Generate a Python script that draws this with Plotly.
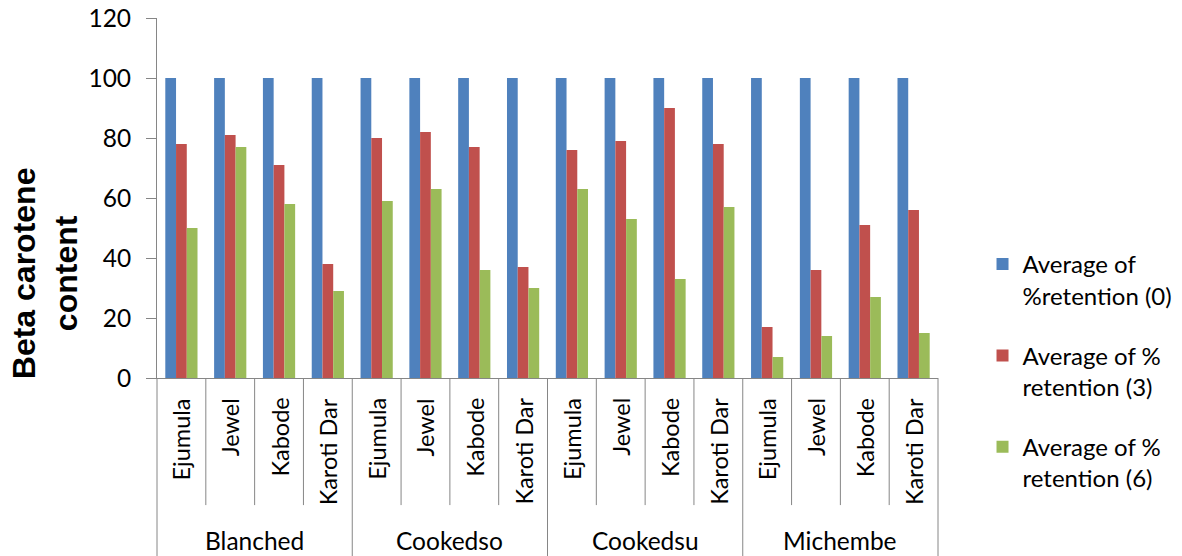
import plotly.graph_objects as go

groups = ["Blanched", "Cookedso", "Cookedsu", "Michembe"]
varieties = ["Ejumula", "Jewel", "Kabode", "Karoti Dar"]
series_names = ["Average of<br>%retention (0)", "Average of %<br>retention (3)", "Average of %<br>retention (6)"]
colors = ["#4F81BD", "#C0504D", "#9BBB59"]

retention_0 = [100, 100, 100, 100, 100, 100, 100, 100, 100, 100, 100, 100, 100, 100, 100, 100]
retention_3 = [78, 81, 71, 38, 80, 82, 77, 37, 76, 79, 90, 78, 17, 36, 51, 56]
retention_6 = [50, 77, 58, 29, 59, 63, 36, 30, 63, 53, 33, 57, 7, 14, 27, 15]

y_ticks = [0, 20, 40, 60, 80, 100, 120]

cats = [f"{g} {v}" for g in groups for v in varieties]
n = len(cats)

fig = go.Figure()
for name, vals, col in zip(series_names, [retention_0, retention_3, retention_6], colors):
    fig.add_trace(go.Bar(x=cats, y=vals, name=name, marker_color=col,
                         marker_line_width=0, legendgroup=name))

AXIS_GREY = "#868686"
LABEL_FONT = "Lato, Open Sans, sans-serif"

fig.update_layout(
    width=1182, height=556,
    margin=dict(l=149, r=252, t=10, b=186),
    paper_bgcolor="white", plot_bgcolor="white",
    barmode="group", bargap=0.34, bargroupgap=0,
    showlegend=True,
    legend=dict(x=1.057, xanchor="left", y=0.378, yanchor="top",
                font=dict(family=LABEL_FONT, size=24, color="#000000"),
                valign="top", tracegroupgap=26, bgcolor="rgba(0,0,0,0)"),
    xaxis=dict(type="category", categoryorder="array", categoryarray=cats,
               range=[-0.5, n - 0.5], showticklabels=False, ticks="", automargin=False,
               showline=True, linecolor=AXIS_GREY, linewidth=1, showgrid=False, zeroline=False),
    yaxis=dict(range=[0, 120], tickvals=y_ticks, ticks="outside", ticklen=10,
               tickcolor=AXIS_GREY, showline=True, linecolor=AXIS_GREY, linewidth=1,
               showgrid=False, zeroline=False, automargin=False, ticklabelstandoff=10,
               ticklabeloverflow="allow",
               tickfont=dict(family=LABEL_FONT, size=24.5, color="#000000")),
)

annotations = []
shapes = []
# inner variety labels
for i, c in enumerate(cats):
    annotations.append(dict(x=i, xref="x", y=-0.05, yref="paper", yanchor="top",
                            xanchor="center", text=varieties[i % len(varieties)],
                            textangle=-90, showarrow=False,
                            font=dict(family=LABEL_FONT, size=23.5, color="#000000")))
# group labels
for gi, g in enumerate(groups):
    annotations.append(dict(x=gi * len(varieties) + (len(varieties) - 1) / 2, xref="x",
                            y=-0.45, yref="paper", yanchor="middle", xanchor="center",
                            text=g, showarrow=False,
                            font=dict(family=LABEL_FONT, size=24.5, color="#000000")))
# axis title
annotations.append(dict(x=-0.143, xref="paper", y=0.292, yref="paper", xanchor="center",
                        yanchor="middle", text="Beta carotene<br>content", textangle=-90,
                        showarrow=False, borderpad=0,
                        font=dict(family="Liberation Sans, Arial, sans-serif", size=32,
                                  color="#000000", weight="bold")))

# category dividers
for k in range(n + 1):
    xp = k / n
    long = (k % len(varieties) == 0)
    shapes.append(dict(type="line", xref="paper", yref="paper", x0=xp, x1=xp,
                       y0=0, y1=(-0.5 if long else -0.353),
                       line=dict(color=AXIS_GREY, width=1)))

fig.update_layout(annotations=annotations, shapes=shapes)
fig.write_html("out.html")
